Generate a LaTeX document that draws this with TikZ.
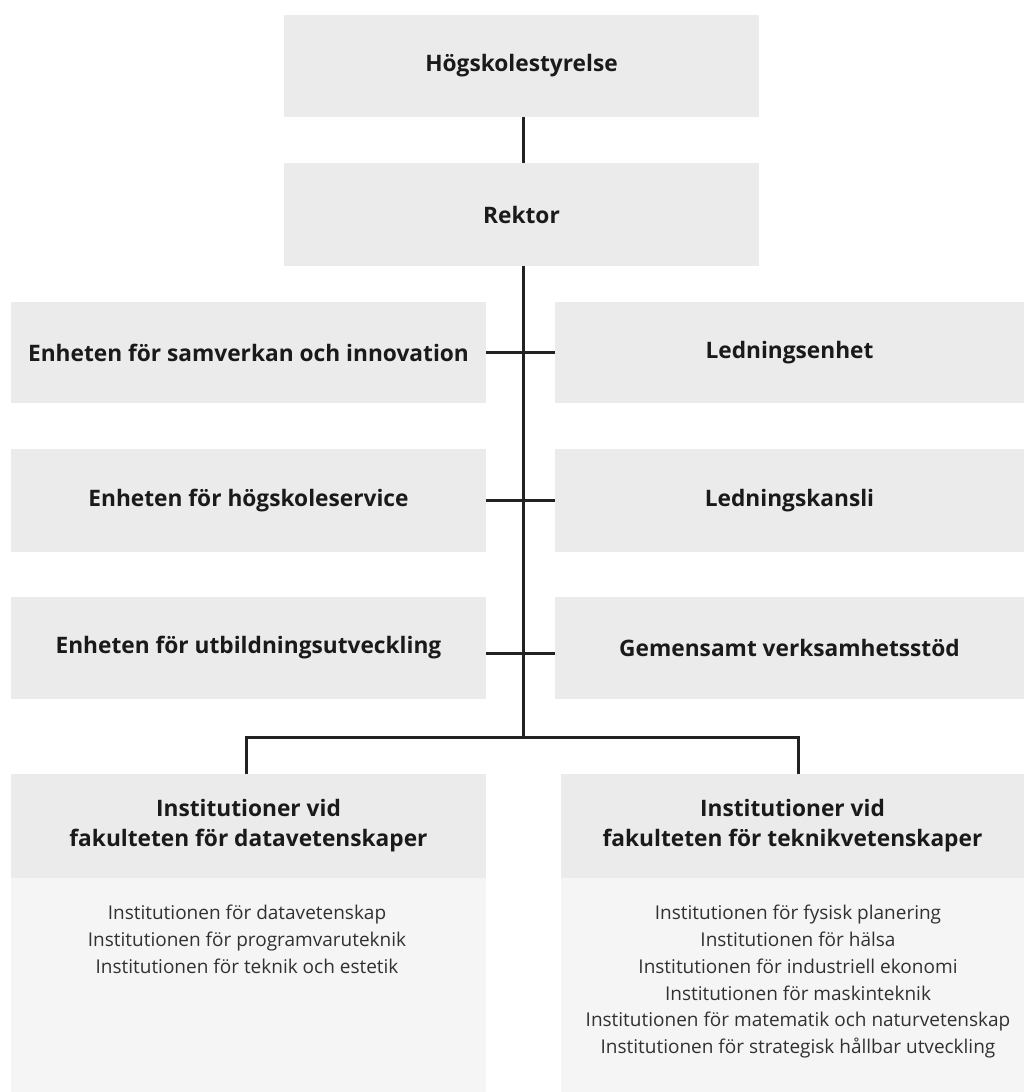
\documentclass[tikz,border=0pt]{standalone}
\usepackage{fontspec}
\setmainfont{Open Sans}
\definecolor{boxgray}{HTML}{EBEBEB}
\definecolor{bodygray}{HTML}{F5F5F5}
\definecolor{ink}{HTML}{1A1A1A}
\definecolor{linecol}{HTML}{222222}
\tikzset{
  box/.style={fill=boxgray, draw=none, inner sep=0pt, outer sep=0pt, text=ink, align=center,
    font=\fontsize{22.7}{30}\selectfont\bfseries},
  bodybox/.style={fill=bodygray, draw=none, inner sep=0pt, outer sep=0pt},
  bodytext/.style={inner sep=0pt, text=ink!90, align=center, font=\fontsize{19}{26.8}\selectfont},
  conn/.style={draw=linecol, line width=3pt},
}
\begin{document}
\begin{tikzpicture}[x=1pt,y=-1pt]
\useasboundingbox (0,0) rectangle (1024,1092);
% top boxes
\node[box, minimum width=475pt, minimum height=102pt] (hs) at (521.5,66) {Högskolestyrelse};
\node[box, minimum width=475pt, minimum height=103pt] (rk) at (521.5,214.5) {Rektor};
% rows
\node[box, minimum width=475pt, minimum height=101pt] (l1) at (248.5,352.5) {Enheten för samverkan och innovation};
\node[box, minimum width=469pt, minimum height=101pt] (r1) at (789.5,352.5) {Ledningsenhet};
\node[box, minimum width=475pt, minimum height=103pt] (l2) at (248.5,500.5) {Enheten för högskoleservice};
\node[box, minimum width=469pt, minimum height=103pt] (r2) at (789.5,500.5) {Ledningskansli};
\node[box, minimum width=475pt, minimum height=102pt] (l3) at (248.5,648) {Enheten för utbildningsutveckling};
\node[box, minimum width=469pt, minimum height=102pt] (r3) at (789.5,648) {Gemensamt verksamhetsstöd};
% bottom boxes
\node[box, minimum width=475pt, minimum height=104pt] (lh) at (248.5,826) {Institutioner vid\\fakulteten för datavetenskaper};
\node[box, minimum width=463pt, minimum height=104pt] (rh) at (792.5,826) {Institutioner vid\\fakulteten för teknikvetenskaper};
\node[bodybox, minimum width=475pt, minimum height=214pt, anchor=north] (lb) at (lh.south) {};
\node[bodybox, minimum width=463pt, minimum height=214pt, anchor=north] (rb) at (rh.south) {};
\node[bodytext, anchor=north] (lbt) at (247,905) {Institutionen för datavetenskap\\Institutionen för programvaruteknik\\Institutionen för teknik och estetik};
\node[bodytext, anchor=north] (rbt) at (798,905) {Institutionen för fysisk planering\\Institutionen för hälsa\\Institutionen för industriell ekonomi\\Institutionen för maskinteknik\\Institutionen för matematik och naturvetenskap\\Institutionen för strategisk hållbar utveckling};
% connectors
\coordinate (spine) at (523,737);
\draw[conn] (hs.south -| spine) -- (rk.north -| spine);
\draw[conn] (rk.south -| spine) -- (spine);
\draw[conn] (l1.east) -- (r1.west);
\draw[conn] (l2.east) -- (r2.west);
\draw[conn] ([yshift=-5pt]l3.east) -- ([yshift=-5pt]r3.west);
\coordinate (busl) at (246,737);
\coordinate (busr) at (798,737);
\draw[conn, line cap=rect] (busl) -- (busr);
\draw[conn] (busl) -- (busl |- lh.north);
\draw[conn] (busr) -- (busr |- rh.north);
\end{tikzpicture}
\end{document}
